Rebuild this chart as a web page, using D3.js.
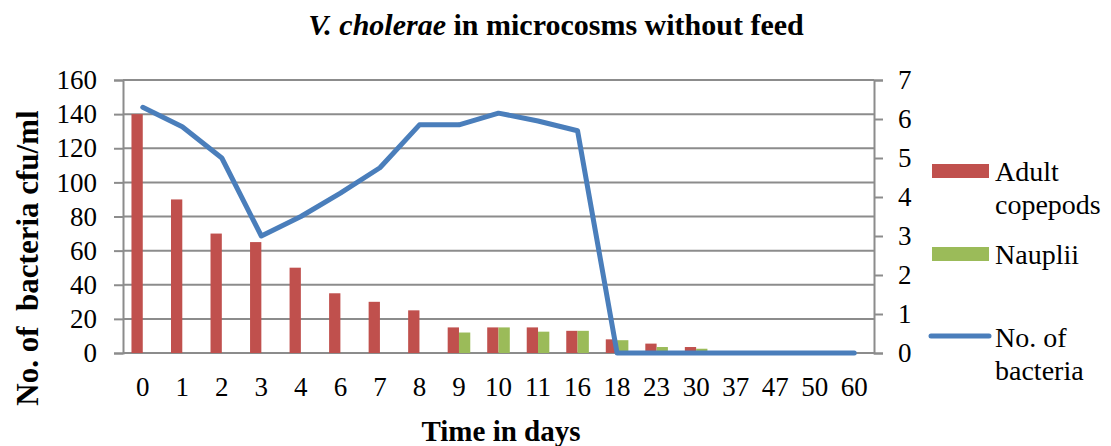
<!DOCTYPE html>
<html>
<head>
<meta charset="utf-8">
<script src="https://cdn.jsdelivr.net/npm/d3@7"></script>
<style>
  body { margin: 0; background: #fff; }
  svg { display: block; font-family: "Liberation Serif", "Times New Roman", serif; }
</style>
</head>
<body>
<svg id="chart" width="1111" height="446"></svg>
<script>
// data
var days = ['0', '1', '2', '3', '4', '6', '7', '8', '9', '10', '11', '16', '18', '23', '30', '37', '47', '50', '60'];
var adultCopepods = [140, 90, 70, 65, 50, 35, 30, 25, 15, 15, 15, 13, 8, 5.5, 3.5, 0, 0, 0, 0];
var nauplii = [0, 0, 0, 0, 0, 0, 0, 0, 12, 15, 12.5, 13, 7.5, 3.5, 2.5, 0, 0, 0, 0];
var bacteria = [6.3, 5.8, 5.0, 3.0, 3.5, 4.1, 4.75, 5.85, 5.85, 6.15, 5.95, 5.7, 0, 0, 0, 0, 0, 0, 0];
var leftTicks = [0, 20, 40, 60, 80, 100, 120, 140, 160];
var rightTicks = [0, 1, 2, 3, 4, 5, 6, 7];

var plotL = 123, plotR = 874, plotT = 80, plotB = 353;
var gridColor = '#8c8c8c';

var svg = d3.select('#chart');

var x = d3.scaleBand().domain(days).range([plotL, plotR]);
var xInner = d3.scaleBand().domain(['adult', 'nauplii']).range([0, x.bandwidth()])
    .paddingInner(0).paddingOuter(0.75);
var yL = d3.scaleLinear().domain([0, 160]).range([plotB, plotT]);
var yR = d3.scaleLinear().domain([0, 7]).range([plotB, plotT]);

//网格线
svg.append('g').selectAll('line').data(leftTicks).enter().append('line')
    .attr('x1', plotL).attr('x2', plotR)
    .attr('y1', function (d) { return yL(d); })
    .attr('y2', function (d) { return yL(d); })
    .attr('stroke', gridColor).attr('stroke-width', 2);

// left axis
var axL = svg.append('g').attr('transform', 'translate(' + plotL + ',0)')
    .call(d3.axisLeft(yL).tickValues(leftTicks).tickSize(9).tickPadding(17));
// right axis
var axR = svg.append('g').attr('transform', 'translate(' + plotR + ',0)')
    .call(d3.axisRight(yR).tickValues(rightTicks).tickFormat(d3.format('d')).tickSize(9).tickPadding(15));
// bottom axis
var axB = svg.append('g').attr('transform', 'translate(0,' + plotB + ')')
    .call(d3.axisBottom(x).tickSize(0).tickPadding(24));

[axL, axR, axB].forEach(function (ax) {
    ax.attr('font-family', null).attr('font-size', null);
    ax.selectAll('path, line').attr('stroke', gridColor).attr('stroke-width', 2);
    ax.selectAll('text').attr('font-size', 27).attr('fill', '#000');
});
axB.select('path').attr('d', 'M' + plotL + ',0H' + plotR);

// bars
var bars = svg.append('g');
bars.selectAll('rect.adult').data(adultCopepods).enter().append('rect')
    .attr('x', function (d, i) { return x(days[i]) + xInner('adult'); })
    .attr('y', function (d) { return yL(d); })
    .attr('width', xInner.bandwidth())
    .attr('height', function (d) { return plotB - yL(d); })
    .attr('fill', '#c0504d');
bars.selectAll('rect.naup').data(nauplii).enter().append('rect')
    .attr('x', function (d, i) { return x(days[i]) + xInner('nauplii'); })
    .attr('y', function (d) { return yL(d); })
    .attr('width', xInner.bandwidth())
    .attr('height', function (d) { return plotB - yL(d); })
    .attr('fill', '#9bbb59');

// line
var line = d3.line()
    .x(function (d, i) { return x(days[i]) + x.bandwidth() / 2; })
    .y(function (d) { return yR(d); });
svg.append('path').datum(bacteria)
    .attr('d', line)
    .attr('fill', 'none')
    .attr('stroke', '#4a7ebb')
    .attr('stroke-width', 5)
    .attr('stroke-linejoin', 'round')
    .attr('stroke-linecap', 'round');

// title
var title = svg.append('text').attr('x', 556).attr('y', 35)
    .attr('text-anchor', 'middle').attr('font-size', 30).attr('font-weight', 'bold');
title.append('tspan').attr('font-style', 'italic').text('V. cholerae');
title.append('tspan').text(' in microcosms without feed');

// axis titles
svg.append('text').attr('x', 501).attr('y', 441)
    .attr('text-anchor', 'middle').attr('font-size', 29).attr('font-weight', 'bold')
    .text('Time in days');
svg.append('text').attr('transform', 'translate(38,258) rotate(-90)')
    .attr('text-anchor', 'middle').attr('font-size', 31).attr('font-weight', 'bold')
    .attr('xml:space', 'preserve')
    .text('No. of  bacteria cfu/ml');

// legend
var legend = svg.append('g').attr('font-size', 28);
legend.append('rect').attr('x', 932).attr('y', 164).attr('width', 57).attr('height', 14).attr('fill', '#c0504d');
legend.append('text').attr('x', 995).attr('y', 181).text('Adult');
legend.append('text').attr('x', 995).attr('y', 214).text('copepods');
legend.append('rect').attr('x', 932).attr('y', 247).attr('width', 57).attr('height', 14).attr('fill', '#9bbb59');
legend.append('text').attr('x', 995).attr('y', 264).text('Nauplii');
legend.append('line').attr('x1', 931).attr('x2', 989).attr('y1', 336).attr('y2', 336)
    .attr('stroke', '#4a7ebb').attr('stroke-width', 5).attr('stroke-linecap', 'round');
legend.append('text').attr('x', 995).attr('y', 347).text('No. of');
legend.append('text').attr('x', 995).attr('y', 380).text('bacteria');
</script>
</body>
</html>
